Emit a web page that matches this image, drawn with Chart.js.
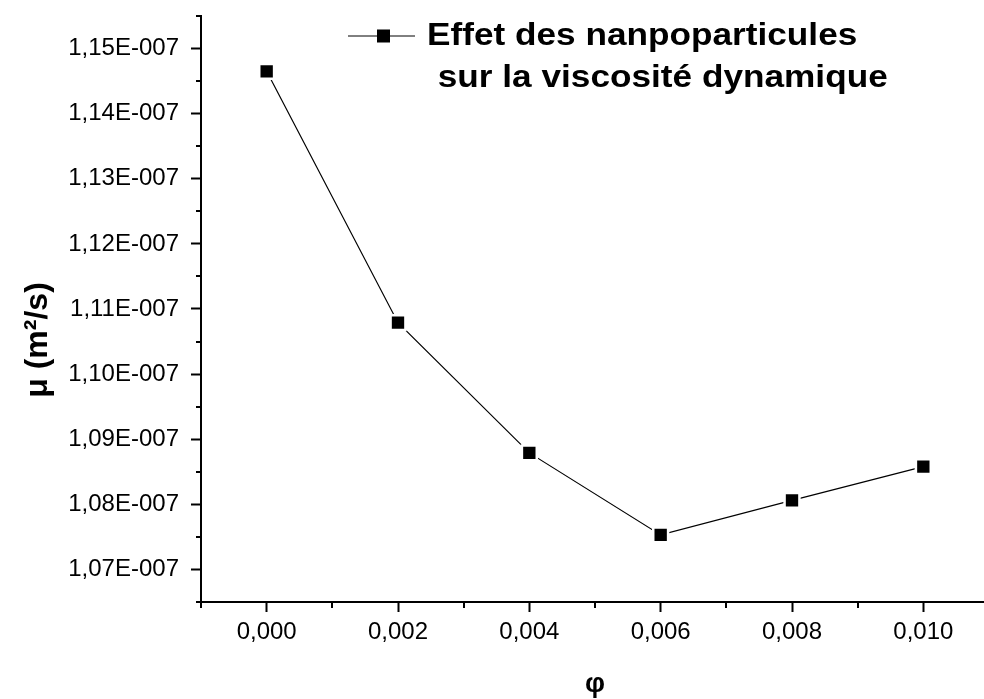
<!DOCTYPE html>
<html>
<head>
<meta charset="utf-8">
<script src="https://cdn.jsdelivr.net/npm/chart.js@4.4.1/dist/chart.umd.min.js"></script>
<style>
  html, body { margin: 0; padding: 0; background: #fff; overflow: hidden; }
  #wrap { position: absolute; left: 0; top: 0; width: 990px; height: 699px; }
</style>
</head>
<body>
<div id="wrap"><canvas id="viscChart"></canvas></div>
<script>
// volume fraction (phi) and dynamic viscosity
const phi = [0.000, 0.002, 0.004, 0.006, 0.008, 0.010];
const mu = [1.1465e-7, 1.1079e-7, 1.0879e-7, 1.0753e-7, 1.0806e-7, 1.0858e-7];

const xTicks = [0.000, 0.002, 0.004, 0.006, 0.008, 0.010];
const xMinorTicks = [-0.001, 0.001, 0.003, 0.005, 0.007, 0.009, 0.011];
const yTicks = [1.07e-7, 1.08e-7, 1.09e-7, 1.10e-7, 1.11e-7, 1.12e-7, 1.13e-7, 1.14e-7, 1.15e-7];
const yMinorTicks = [1.065e-7, 1.075e-7, 1.085e-7, 1.095e-7, 1.105e-7, 1.115e-7, 1.125e-7, 1.135e-7, 1.145e-7, 1.155e-7];

const seriesLabel = ['Effet des nanpoparticules', ' sur la viscosité dynamique'];
const yTitle = 'μ (m²/s)';
const xTitle = 'φ';

const FONT = '"Liberation Sans", Arial, sans-serif';

// Origin-like minor ticks, legend and y title
const extras = {
  id: 'extras',
  afterDraw(chart) {
    const ctx = chart.ctx;
    const xs = chart.scales.x, ys = chart.scales.y;
    ctx.save();
    ctx.strokeStyle = '#000';
    ctx.lineWidth = 2;
    ctx.beginPath();
    yMinorTicks.forEach(v => {
      const py = Math.round(ys.getPixelForValue(v));
      ctx.moveTo(xs.left - 5, py);
      ctx.lineTo(xs.left, py);
    });
    xMinorTicks.forEach(v => {
      const px = Math.round(xs.getPixelForValue(v));
      ctx.moveTo(px, ys.bottom);
      ctx.lineTo(px, ys.bottom + 6);
    });
    ctx.stroke();

    // legend
    const ly = 36;
    ctx.lineWidth = 1;
    ctx.beginPath();
    ctx.moveTo(348, ly);
    ctx.lineTo(415, ly);
    ctx.stroke();
    ctx.fillStyle = '#000';
    ctx.fillRect(377, ly - 6.5, 13, 13);
    ctx.font = 'bold 32px ' + FONT;
    ctx.textBaseline = 'alphabetic';
    ctx.textAlign = 'left';
    ctx.save();
    ctx.translate(427, 0);
    ctx.scale(1.1, 1);
    ctx.fillText(seriesLabel[0], 0, 45);
    ctx.restore();
    ctx.save();
    ctx.translate(428, 0);
    ctx.scale(1.1, 1);
    ctx.fillText(seriesLabel[1], 0, 87);
    ctx.restore();

    // y title
    ctx.translate(38, 340);
    ctx.rotate(-Math.PI / 2);
    ctx.textAlign = 'center';
    ctx.textBaseline = 'middle';
    ctx.font = 'bold 32px ' + FONT;
    ctx.fillText(yTitle, 0, 0);
    ctx.restore();
  }
};

new Chart(document.getElementById('viscChart'), {
  type: 'line',
  data: {
    datasets: [{
      label: seriesLabel.join(''),
      data: phi.map((x, i) => ({ x: x, y: mu[i] })),
      borderColor: '#000',
      borderWidth: 1.2,
      backgroundColor: '#000',
      pointStyle: 'rect',
      pointRadius: 10.5,
      pointBorderWidth: 2.5,
      pointBorderColor: '#fff',
      pointBackgroundColor: '#000',
      tension: 0
    }]
  },
  options: {
    responsive: true,
    maintainAspectRatio: false,
    animation: false,
    layout: { autoPadding: false, padding: { top: 16, right: 1, left: 0, bottom: 0 } },
    plugins: {
      legend: { display: false },
      tooltip: { enabled: false }
    },
    scales: {
      x: {
        type: 'linear',
        min: -0.001,
        max: 0.011,
        afterFit: s => { s.height = 97; s.paddingLeft = 0; s.paddingRight = 0; },
        afterBuildTicks: s => { s.ticks = xTicks.map(v => ({ value: v })); },
        grid: { drawOnChartArea: false, tickLength: 10, tickColor: '#000', tickWidth: 2 },
        border: { display: true, color: '#000', width: 2 },
        ticks: {
          color: '#000',
          padding: 6,
          maxRotation: 0,
          font: { family: FONT, size: 24 },
          callback: v => v.toFixed(3).replace('.', ',')
        },
        title: {
          display: true,
          text: xTitle,
          color: '#000',
          padding: { top: 0, bottom: -2 },
          font: { family: FONT, size: 28, weight: 'bold' }
        }
      },
      y: {
        type: 'linear',
        min: 1.065e-7,
        max: 1.155e-7,
        afterFit: s => { s.width = 201; s.paddingTop = 0; s.paddingBottom = 0; },
        afterBuildTicks: s => { s.ticks = yTicks.map(v => ({ value: v })); },
        grid: { drawOnChartArea: false, tickLength: 10, tickColor: '#000', tickWidth: 2 },
        border: { display: true, color: '#000', width: 2 },
        ticks: {
          color: '#000',
          padding: 12,
          font: { family: FONT, size: 24 },
          callback: v => (v * 1e7).toFixed(2).replace('.', ',') + 'E-007'
        }
      }
    }
  },
  plugins: [extras]
});
</script>
</body>
</html>
